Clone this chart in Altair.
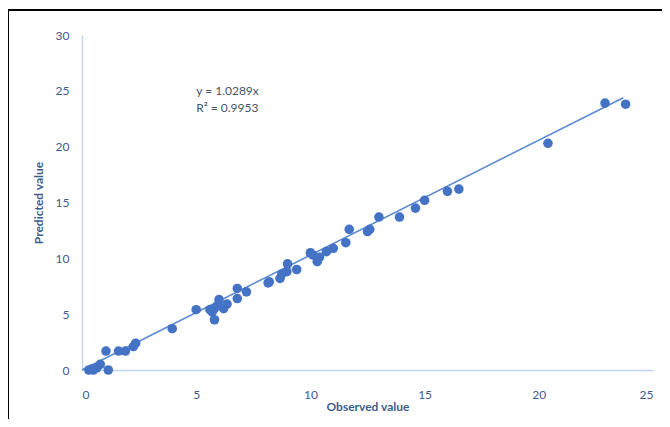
import altair as alt
import pandas as pd

observed = [23.8, 22.9, 20.4, 16.5, 16.0, 15.0, 14.6, 13.9, 13.0, 12.6, 12.5, 11.7,
            11.55, 11.0, 10.7, 10.4, 10.3, 10.0, 10.1, 9.4, 9.0, 8.97, 8.75, 8.67,
            8.2, 8.15, 7.2, 6.8, 6.8, 6.35, 6.2, 6.0, 5.95, 5.8, 5.7, 5.6, 5.8, 5.0,
            3.95, 2.35, 2.25, 1.9, 1.6, 1.05, 1.15, 0.8, 0.65, 0.45, 0.3, 0.5]
predicted = [23.8, 23.9, 20.3, 16.2, 16.0, 15.2, 14.5, 13.7, 13.7, 12.6, 12.4, 12.6,
             11.4, 10.9, 10.6, 10.1, 9.7, 10.5, 10.3, 9.0, 9.5, 8.8, 8.6, 8.2,
             7.9, 7.8, 7.0, 7.3, 6.4, 5.9, 5.5, 6.3, 5.8, 5.5, 5.2, 5.4, 4.5, 5.4,
             3.7, 2.4, 2.1, 1.7, 1.7, 1.7, 0.0, 0.5, 0.2, 0.1, 0.0, 0.0]

slope = 1.0289
trend_x = [0.0, 23.7]
trend_y = [slope * v for v in trend_x]

eq_text = ["y = 1.0289x", "R² = 0.9953"]
eq_x = [5.0, 5.0]
eq_y = [25.0, 23.5]

x_ticks = [0, 5, 10, 15, 20, 25]
y_ticks = [0, 5, 10, 15, 20, 25, 30]

pts = pd.DataFrame({"obs": observed, "pred": predicted})
trend = pd.DataFrame({"obs": trend_x, "pred": trend_y})
eq = pd.DataFrame({"obs": eq_x, "pred": eq_y, "t": eq_text})

label_color = "#3E5C8A"
axis_line = "#C5D7EE"

xs = alt.Scale(domain=[0, 25], nice=False)
ys = alt.Scale(domain=[0, 30], nice=False)

xaxis = alt.Axis(values=x_ticks, grid=False, ticks=False, domainColor=axis_line,
                 domainWidth=1.5, labelColor=label_color, labelFont="Lato",
                 labelFontSize=12, labelPadding=19, title="Observed value",
                 titleFont="Lato", titleFontSize=12, titleFontWeight="bold",
                 titleColor=label_color, titlePadding=1)
yaxis = alt.Axis(values=y_ticks, grid=False, ticks=False, domainColor=axis_line,
                 domainWidth=1.5, labelColor=label_color, labelFont="Lato",
                 labelFontSize=12, labelPadding=13, title="Predicted value",
                 titleFont="Lato", titleFontSize=12, titleFontWeight="bold",
                 titleColor=label_color, titlePadding=10)

line = alt.Chart(trend).mark_line(color="#5B8BD0", strokeWidth=1.6).encode(
    x=alt.X("obs:Q", scale=xs, axis=xaxis),
    y=alt.Y("pred:Q", scale=ys, axis=yaxis),
)

points = alt.Chart(pts).mark_circle(size=92, color="#4472C4", opacity=1).encode(
    x=alt.X("obs:Q", scale=xs),
    y=alt.Y("pred:Q", scale=ys),
)

text = alt.Chart(eq).mark_text(align="left", baseline="middle", font="Lato",
                               fontSize=12, color="#44546A").encode(
    x=alt.X("obs:Q", scale=xs),
    y=alt.Y("pred:Q", scale=ys),
    text="t:N",
)

frame_left = alt.Chart(pts).mark_rule(color="black", strokeWidth=2).encode(
    x=alt.value(-74), y=alt.value(-25), y2=alt.value(420))
frame_top = alt.Chart(pts).mark_rule(color="black", strokeWidth=2).encode(
    x=alt.value(-75), x2=alt.value(600), y=alt.value(-25))

chart = alt.layer(frame_left, frame_top, line, points, text).properties(
    width=571, height=335,
    autosize=alt.AutoSizeParams(type="none"),
    padding={"left": 74, "top": 27, "right": 9, "bottom": 49},
    background="white",
).configure_view(stroke=None)

chart.save("out.html", embed_options={"renderer": "svg", "actions": False})
